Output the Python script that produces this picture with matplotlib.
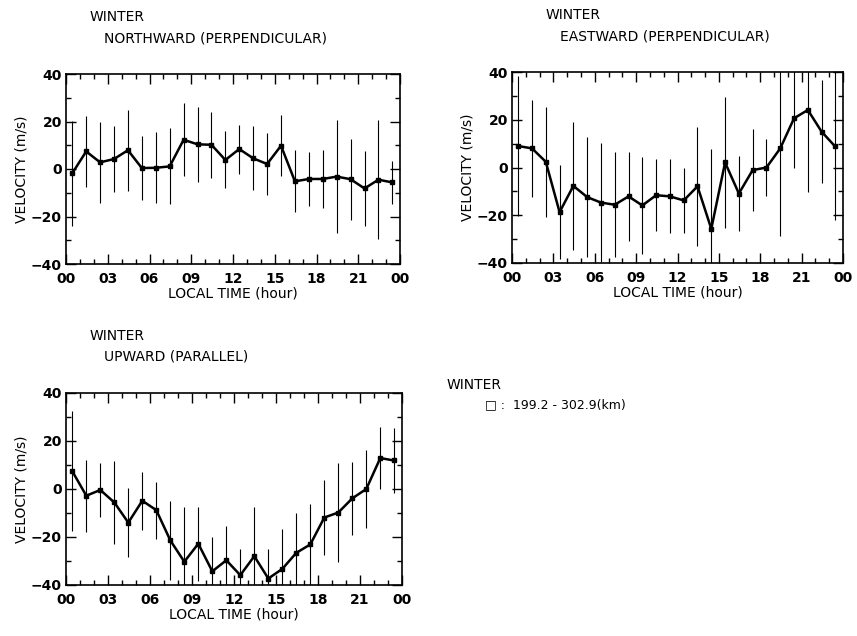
import matplotlib
matplotlib.use('Agg')
import matplotlib.pyplot as plt
from matplotlib.ticker import MultipleLocator, FixedLocator, FixedFormatter

# --- data ---
hours = [0.45, 1.45, 2.45, 3.45, 4.45, 5.45, 6.45, 7.45, 8.45, 9.45, 10.45, 11.45,
         12.45, 13.45, 14.45, 15.45, 16.45, 17.45, 18.45, 19.45, 20.45, 21.45, 22.45, 23.4]

north_v = [-1.8, 7.4, 2.8, 4.2, 7.9, 0.4, 0.5, 1.1, 12.3, 10.4, 10.2, 3.8,
           8.4, 4.5, 2.1, 9.8, -5.2, -4.2, -4.2, -3.2, -4.3, -8.2, -4.5, -5.6]
north_err = [22.0, 15.0, 17.0, 14.0, 17.0, 13.5, 15.0, 16.0, 15.4, 15.7, 13.8, 12.0,
             10.3, 13.5, 12.9, 12.9, 13.0, 11.2, 12.4, 23.9, 17.0, 15.8, 25.0, 9.0]

east_v = [9.0, 8.0, 2.4, -18.7, -7.7, -12.4, -14.7, -15.6, -12.1, -15.9, -11.6, -12.1,
          -13.8, -7.9, -25.7, 2.1, -10.9, -1.1, 0.0, 8.0, 20.6, 24.1, 15.0, 9.0]
east_err = [29.5, 20.2, 23.0, 19.7, 26.9, 25.2, 25.0, 22.0, 18.6, 20.2, 15.2, 15.5,
            13.6, 25.0, 33.3, 27.4, 15.7, 17.2, 11.8, 36.5, 21.0, 34.5, 21.7, 31.0]

up_v = [7.4, -2.8, -0.4, -5.6, -14.0, -4.9, -8.8, -21.4, -30.3, -22.8, -34.3, -29.7,
        -35.9, -28.0, -37.3, -33.3, -26.6, -23.1, -11.9, -9.8, -3.9, 0.0, 12.9, 11.9]
up_err = [25.0, 15.0, 11.2, 17.2, 14.4, 12.0, 11.9, 16.5, 22.6, 15.4, 14.4, 14.3,
          11.0, 20.3, 12.5, 16.5, 16.8, 17.0, 15.7, 20.7, 15.2, 16.1, 12.8, 13.6]

xtick_pos = [0, 3, 6, 9, 12, 15, 18, 21, 24]
xtick_labels = ['00', '03', '06', '09', '12', '15', '18', '21', '00']

# (season, title, values, errors, axes box in px, title left px)
panels = [
    ('WINTER', 'NORTHWARD (PERPENDICULAR)', north_v, north_err, (66, 74, 400, 264), 90),
    ('WINTER', 'EASTWARD (PERPENDICULAR)', east_v, east_err, (512, 72, 843, 263), 546),
    ('WINTER', 'UPWARD (PARALLEL)', up_v, up_err, (66, 393, 402, 585), 90),
]

W, H = 857, 636
plt.rcParams['font.family'] = ['DejaVu Sans']
fig = plt.figure(figsize=(W / 100, H / 100), dpi=100)

for season, title, vals, errs, (x0, y0, x1, y1), tx in panels:
    ax = fig.add_axes([x0 / W, 1 - y1 / H, (x1 - x0) / W, (y1 - y0) / H])
    ax.errorbar(hours, vals, yerr=errs, fmt='none', ecolor='black',
                elinewidth=0.8, capsize=0)
    ax.plot(hours, vals, color='black', lw=1.8, marker='s', ms=3)
    ax.set_xlim(0, 24)
    ax.set_ylim(-40, 40)
    ax.xaxis.set_major_locator(FixedLocator(xtick_pos))
    ax.xaxis.set_major_formatter(FixedFormatter(xtick_labels))
    ax.xaxis.set_minor_locator(MultipleLocator(1))
    ax.yaxis.set_major_locator(MultipleLocator(20))
    ax.yaxis.set_minor_locator(MultipleLocator(10))
    ax.tick_params(which='both', direction='in', top=True, right=True,
                   width=1.0, labelsize=10)
    ax.tick_params(which='major', length=7)
    ax.tick_params(which='minor', length=3.5)
    ax.tick_params(axis='x', which='major', pad=6)
    ax.tick_params(axis='y', which='major', pad=3)
    for lbl in ax.get_xticklabels() + ax.get_yticklabels():
        lbl.set_fontweight('bold')
    for sp in ax.spines.values():
        sp.set_linewidth(1.2)
    ax.set_xlabel('LOCAL TIME (hour)', fontsize=10, labelpad=0)
    ax.set_ylabel('VELOCITY (m/s)', fontsize=10, labelpad=2)
    # titles sit above the panel, left-indented
    fig.text(tx / W, 1 - (y0 - 57) / H, season, fontsize=10, va='center', ha='left')
    fig.text((tx + 14) / W, 1 - (y0 - 36) / H, title, fontsize=10, va='center', ha='left')

# legend block at right of lower row
fig.text(447 / W, 1 - 385 / H, 'WINTER', fontsize=10, va='center', ha='left')
fig.text(485 / W, 1 - 405 / H, '\u25a1 :  199.2 - 302.9(km)', fontsize=9,
         va='center', ha='left')

fig.savefig('out.png', dpi=100)
